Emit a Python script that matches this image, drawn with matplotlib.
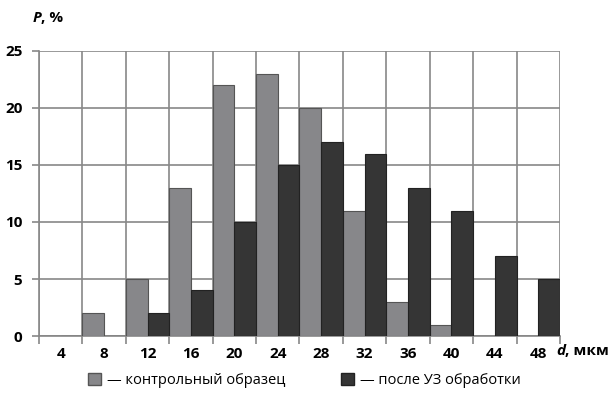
import numpy as np
import matplotlib.pyplot as plt
from matplotlib.patches import Patch

# размеры зёрен, мкм
d_labels = ["4", "8", "12", "16", "20", "24", "28", "32", "36", "40", "44", "48"]
# доля, %
control = [0, 2, 5, 13, 22, 23, 20, 11, 3, 1, 0, 0]
after_us = [0, 0, 2, 4, 10, 15, 17, 16, 13, 11, 7, 5]

gray = "#87878a"
dark = "#353535"
plt.rcParams['font.family'] = ['Open Sans', 'DejaVu Sans']

fig = plt.figure(figsize=(6.09, 4.01), dpi=100)
ax = fig.add_axes([0.064, 0.162, 0.8555, 0.711])

x = np.arange(len(d_labels))
ax.bar(x - 0.25, control, width=0.5, color=gray, edgecolor="#555555", linewidth=0.8, zorder=3)
ax.bar(x + 0.25, after_us, width=0.5, color=dark, edgecolor="#222222", linewidth=0.8, zorder=3)

ax.set_xlim(-0.5, len(d_labels) - 0.5)
ax.set_ylim(0, 25)
ax.set_yticks(range(0, 26, 5))
ax.set_xticks(x)
ax.set_xticklabels(d_labels)
ax.set_xticks(np.arange(-0.5, len(d_labels)), minor=True)

ax.tick_params(axis="x", which="major", length=0, pad=8, labelsize=11)
ax.tick_params(axis="x", which="minor", length=6, color="#888888", width=1.2)
ax.tick_params(axis="y", length=5, color="#888888", width=1.2, labelsize=11, pad=7)
for lab in ax.get_xticklabels() + ax.get_yticklabels():
    lab.set_fontweight("bold")

ax.grid(axis="y", which="major", color="#888888", linewidth=1.2, zorder=0)
ax.grid(axis="x", which="minor", color="#888888", linewidth=1.2, zorder=0)
ax.set_axisbelow(True)
for s in ["top", "right"]:
    ax.spines[s].set_visible(False)
for s in ["left", "bottom"]:
    ax.spines[s].set_color("#888888")
    ax.spines[s].set_linewidth(1.2)

# подписи осей
fig.text(0.054, 0.955, "P", fontsize=11, fontweight="bold", fontstyle="italic", ha="left", va="center")
fig.text(0.068, 0.955, ", %", fontsize=11, fontweight="bold", ha="left", va="center")
fig.text(0.913, 0.125, "d", fontsize=11, fontweight="bold", fontstyle="italic", ha="left", va="center")
fig.text(0.927, 0.125, ", мкм", fontsize=11, fontweight="bold", ha="left", va="center")

handles = [Patch(facecolor=gray, edgecolor="#555555", label="— контрольный образец"),
           Patch(facecolor=dark, edgecolor="#222222", label="— после УЗ обработки")]
fig.legend(handles=handles, loc="center", bbox_to_anchor=(0.5, 0.052), ncol=2, frameon=False,
           fontsize=10.5, handlelength=0.9, handleheight=0.9, handletextpad=0.4, columnspacing=3.8)

fig.savefig("out.png", dpi=100)
